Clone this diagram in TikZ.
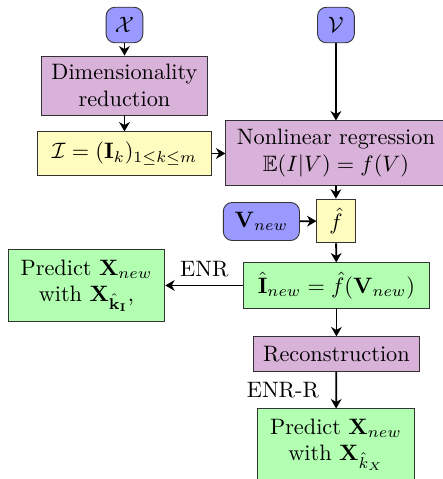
\documentclass[tikz,border=0pt]{standalone}
\usepackage{amsmath,amssymb}
\usepackage{tikz}
\usetikzlibrary{arrows.meta}

\tikzset{
  inp/.style={draw=black!80, fill=blue!40, rounded corners=4pt, minimum width=0.58cm, minimum height=0.56cm},
  proc/.style={draw=black!80, fill=violet!30, align=center},
  res/.style={draw=black!80, fill=yellow!25, align=center},
  outp/.style={draw=black!80, fill=green!30, align=center},
  arr/.style={-{Stealth[length=4.2pt,width=4.8pt,inset=1.3pt]}, thick}
}

\begin{document}
\begin{tikzpicture}
  \clip (0,0) rectangle (6.98,-7.55);
  % left column
  \node[inp] (X) at (1.962,-0.394) {\(\mathcal{X}\)};
  \node[proc, minimum width=2.63cm, minimum height=0.93cm] (dimred) at (1.962,-1.347) {Dimensionality\\reduction};
  \node[res, minimum width=2.73cm, minimum height=0.68cm] (I) at (1.962,-2.419) {\(\mathcal{I} = (\mathbf{I}_k)_{1\leq k\leq m}\)};
  % right column
  \node[inp] (V) at (5.295,-0.394) {\(\mathcal{V}\)};
  \node[proc, minimum width=3.47cm, minimum height=1.01cm] (nlr) at (5.295,-2.411) {Nonlinear regression\\\(\mathbb{E}(I|V) = f(V)\)};
  \node[res, minimum width=0.6cm, minimum height=0.69cm] (fhat) at (5.295,-3.483) {\(\hat{f}\)};
  \node[inp, minimum width=1.2cm, minimum height=0.6cm] (Vnew) at (4.12,-3.491) {\(\mathbf{V}_{new}\)};
  \node[outp, minimum width=2.92cm, minimum height=0.71cm] (Ihat) at (5.303,-4.499) {\(\hat{\mathbf{I}}_{new} = \hat{f}(\mathbf{V}_{new})\)};
  \node[outp, minimum width=2.47cm, minimum height=1.12cm] (pred1) at (1.363,-4.499) {Predict \(\mathbf{X}_{new}\)\\with \(\mathbf{X}_{\hat{\mathbf{k}}_{\mathbf{I}}}\),};
  \node[proc, minimum width=2.63cm, minimum height=0.54cm] (rec) at (5.303,-5.579) {Reconstruction};
  \node[outp, minimum width=2.46cm, minimum height=1.12cm] (pred2) at (5.295,-7.005) {Predict \(\mathbf{X}_{new}\)\\with \(\mathbf{X}_{\hat{k}_X}\)};

  \draw[arr] (X) -- (dimred);
  \draw[arr] (dimred) -- (I);
  \draw[arr] (I.east) -- (I.east -| nlr.west);
  \draw[arr] (V) -- (nlr);
  \draw[arr] (nlr) -- (fhat);
  \draw[arr] (Vnew) -- (fhat);
  \draw[arr] (fhat) -- (Ihat);
  \draw[arr] (Ihat) -- node[above] {ENR} (pred1);
  \draw[arr] (Ihat) -- (rec);
  \draw[arr] (rec) -- node[left, xshift=-4pt] {ENR-R} (pred2);
\end{tikzpicture}
\end{document}
